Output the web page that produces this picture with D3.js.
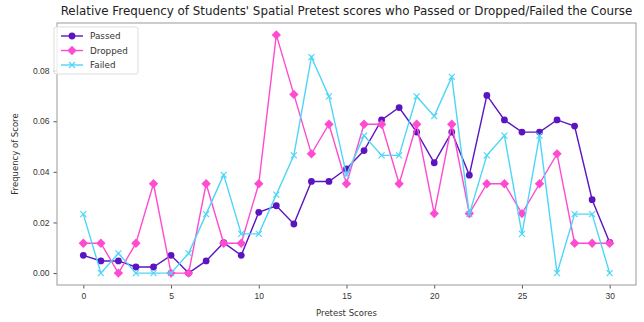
<!DOCTYPE html>
<html>
<head>
<meta charset="utf-8">
<script src="https://cdn.jsdelivr.net/npm/d3@7"></script>
<style>
  body { margin: 0; background: #fff; }
  svg { font-family: "DejaVu Sans", sans-serif; }
</style>
</head>
<body>
<div id="chart"></div>
<script>
// Pretest scores 0..30
const scores = d3.range(0, 31);
const xTicks = [0, 5, 10, 15, 20, 25, 30];
const yTicks = [0, 0.02, 0.04, 0.06, 0.08];

const passed = [0.007, 0.0048, 0.0048, 0.0024, 0.0024, 0.007, 0, 0.0048, 0.012, 0.007,
    0.024, 0.0266, 0.0194, 0.0362, 0.0362, 0.0412, 0.0484, 0.0605, 0.0654, 0.0557,
    0.0436, 0.0557, 0.0387, 0.0702, 0.0605, 0.0557, 0.0557, 0.0605, 0.0581, 0.029, 0.0121];
const dropped = [0.0118, 0.0118, 0, 0.0118, 0.0353, 0, 0, 0.0353, 0.0118, 0.0118,
    0.0353, 0.0941, 0.0706, 0.0471, 0.0588, 0.0353, 0.0588, 0.0588, 0.0353, 0.0588,
    0.0235, 0.0588, 0.0235, 0.0353, 0.0353, 0.0235, 0.0353, 0.0471, 0.0118, 0.0118, 0.0118];
const failed = [0.0233, 0, 0.0078, 0, 0, 0, 0.0078, 0.0233, 0.0388, 0.0155,
    0.0155, 0.031, 0.0465, 0.0853, 0.0698, 0.0388, 0.0543, 0.0465, 0.0465, 0.0698,
    0.062, 0.0775, 0.0233, 0.0465, 0.0543, 0.0155, 0.0543, 0, 0.0233, 0.0233, 0];

const series = [
    { name: "Passed", values: passed, color: "#5b14c2", marker: "circle" },
    { name: "Dropped", values: dropped, color: "#ff4bd0", marker: "diamond" },
    { name: "Failed", values: failed, color: "#4ed6f7", marker: "x" }
];

const W = 644, H = 322;
const margin = { top: 23, right: 8, bottom: 37, left: 57 };
const width = W - margin.left - margin.right,
    height = H - margin.top - margin.bottom;

const svg = d3.select("#chart").append("svg")
    .attr("width", W)
    .attr("height", H);

const g = svg.append("g")
    .attr("transform", `translate(${margin.left},${margin.top})`);

// Scales (matplotlib-style 5% margins)
const x = d3.scaleLinear().domain([-1.5, 31.5]).range([0, width]);
const yMax = d3.max(series, s => d3.max(s.values));
const y = d3.scaleLinear().domain([-yMax * 0.05, yMax * 1.05]).range([height, 0]);

// Axes
const xAxis = g.append("g")
    .attr("transform", `translate(0,${height})`)
    .call(d3.axisBottom(x).tickValues(xTicks).tickSize(3.5).tickPadding(4));
const yAxis = g.append("g")
    .call(d3.axisLeft(y).tickValues(yTicks).tickFormat(d3.format(".2f")).tickSize(3.5).tickPadding(4));

[xAxis, yAxis].forEach(a => {
    a.select(".domain").remove();
    a.selectAll("line").attr("stroke", "#555");
    a.selectAll("text").attr("fill", "#333").style("font-size", "8.5px");
});

// Frame
g.append("rect")
    .attr("width", width)
    .attr("height", height)
    .attr("fill", "none")
    .attr("stroke", "#999")
    .attr("stroke-width", 1);

// Lines and markers
const line = d3.line()
    .x((d, i) => x(scores[i]))
    .y(d => y(d));

function drawMarker(sel, type, color) {
    if (type === "circle") {
        sel.append("circle").attr("r", 3.4).attr("fill", color);
    } else if (type === "diamond") {
        sel.append("path")
            .attr("d", d3.symbol().type(d3.symbolDiamond2).size(56)())
            .attr("fill", color);
    } else {
        sel.append("path")
            .attr("d", "M-3,-3L3,3M-3,3L3,-3")
            .attr("stroke", color)
            .attr("stroke-width", 1.2)
            .attr("fill", "none");
    }
}

series.forEach(s => {
    g.append("path")
        .datum(s.values)
        .attr("fill", "none")
        .attr("stroke", s.color)
        .attr("stroke-width", 1.4)
        .attr("d", line);

    const pts = g.append("g").selectAll("g")
        .data(s.values)
        .enter()
        .append("g")
        .attr("transform", (d, i) => `translate(${x(scores[i])},${y(d)})`);
    drawMarker(pts, s.marker, s.color);
});

// Legend
const legend = g.append("g").attr("transform", "translate(-3,4)");
legend.append("rect")
    .attr("width", 84)
    .attr("height", 47)
    .attr("rx", 2)
    .attr("fill", "#fff")
    .attr("fill-opacity", 0.8)
    .attr("stroke", "#ddd");

series.forEach((s, i) => {
    const row = legend.append("g").attr("transform", `translate(7,${9 + i * 14.5})`);
    row.append("line")
        .attr("x1", 0).attr("x2", 22)
        .attr("stroke", s.color)
        .attr("stroke-width", 1.4);
    drawMarker(row.append("g").attr("transform", "translate(11,0)"), s.marker, s.color);
    row.append("text")
        .attr("x", 29)
        .attr("dy", "0.35em")
        .attr("fill", "#333")
        .style("font-size", "8.8px")
        .text(s.name);
});

// Title and axis labels
svg.append("text")
    .attr("x", margin.left + width / 2)
    .attr("y", 15)
    .attr("text-anchor", "middle")
    .attr("fill", "#222")
    .style("font-size", "11.9px")
    .text("Relative Frequency of Students' Spatial Pretest scores who Passed or Dropped/Failed the Course");

svg.append("text")
    .attr("x", margin.left + width / 2)
    .attr("y", H - 6)
    .attr("text-anchor", "middle")
    .attr("fill", "#333")
    .style("font-size", "8.5px")
    .text("Pretest Scores");

svg.append("text")
    .attr("transform", `translate(18,${margin.top + height / 2}) rotate(-90)`)
    .attr("text-anchor", "middle")
    .attr("fill", "#333")
    .style("font-size", "8.5px")
    .text("Frequency of Score");
</script>
</body>
</html>
